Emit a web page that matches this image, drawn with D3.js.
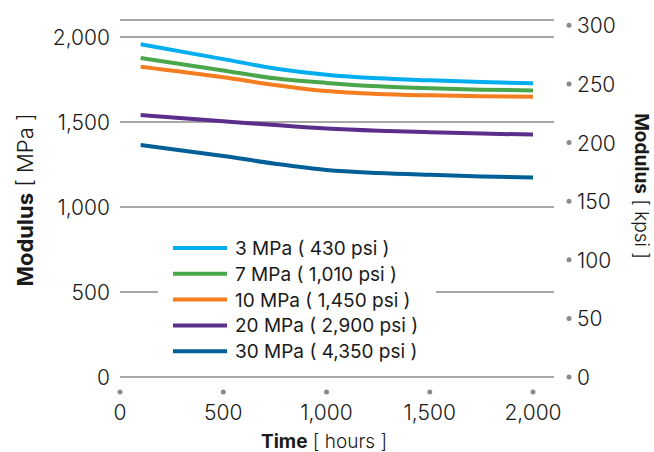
<!DOCTYPE html>
<html>
<head>
<meta charset="utf-8">
<script src="https://cdn.jsdelivr.net/npm/d3@7"></script>
<style>
  body { margin: 0; background: #fff; }
  svg { display: block; }
  text { font-family: Inter, "Liberation Sans", Arial, sans-serif; fill: #1a1a1a; }
  .tick { font-weight: 300; }
</style>
</head>
<body>
<svg id="chart" width="654" height="452"></svg>
<script>
// data
const hours = [100, 500, 750, 1000, 1250, 1500, 1750, 2000];
const mpa3 = [1957, 1870, 1815, 1778, 1757, 1745, 1735, 1728];
const mpa7 = [1876, 1803, 1757, 1730, 1710, 1698, 1690, 1686];
const mpa10 = [1825, 1763, 1718, 1682, 1665, 1657, 1652, 1649];
const mpa20 = [1541, 1504, 1482, 1462, 1449, 1440, 1432, 1426];
const mpa30 = [1365, 1300, 1255, 1218, 1200, 1189, 1180, 1173];

const seriesNames = ["3 MPa ( 430 psi )", "7 MPa ( 1,010 psi )", "10 MPa ( 1,450 psi )", "20 MPa ( 2,900 psi )", "30 MPa ( 4,350 psi )"];
const seriesColors = ["#00aeef", "#4aa64a", "#f47d20", "#5b2e8c", "#005f96"];
const seriesValues = [mpa3, mpa7, mpa10, mpa20, mpa30];

const xTicks = [0, 500, 1000, 1500, 2000];
const leftTicks = [0, 500, 1000, 1500, 2000];
const gridValues = [0, 500, 1000, 1500, 2000, 2100];
const rightTicks = [0, 50, 100, 150, 200, 250, 300];
const MPA_PER_KPSI = 6.895;

const svg = d3.select("#chart");
const fmt = d3.format(",");

const x = d3.scaleLinear().domain([0, 2000]).range([120, 533]);
const y = d3.scaleLinear().domain([0, 2100]).range([377, 20]);
const yK = d3.scaleLinear().domain([0, 2100 / MPA_PER_KPSI]).range([377, 20]);

// GRIDLINES
svg.append("g").selectAll("line")
  .data(gridValues)
  .join("line")
  .attr("x1", 120).attr("x2", 554)
  .attr("y1", d => y(d)).attr("y2", d => y(d))
  .attr("stroke", "#8a8a8a")
  .attr("stroke-width", 1.5);

// LEFT AXIS labels
svg.append("g").selectAll("text")
  .data(leftTicks)
  .join("text")
  .attr("class", "tick")
  .attr("x", 110)
  .attr("y", d => y(d) + 8)
  .attr("text-anchor", "end")
  .attr("font-size", 21)
  .text(d => fmt(d));

// RIGHT AXIS dots + labels
const right = svg.append("g");
right.selectAll("circle")
  .data(rightTicks)
  .join("circle")
  .attr("cx", 569).attr("cy", d => yK(d)).attr("r", 2.5)
  .attr("fill", "#8a8a8a");
right.selectAll("text")
  .data(rightTicks)
  .join("text")
  .attr("class", "tick")
  .attr("x", 577)
  .attr("y", d => yK(d) + 8)
  .attr("font-size", 21)
  .text(d => d);

// X AXIS dots + labels
const bottom = svg.append("g");
bottom.selectAll("circle")
  .data(xTicks)
  .join("circle")
  .attr("cx", d => x(d)).attr("cy", 392).attr("r", 2.5)
  .attr("fill", "#8a8a8a");
bottom.selectAll("text")
  .data(xTicks)
  .join("text")
  .attr("class", "tick")
  .attr("x", d => x(d))
  .attr("y", 420)
  .attr("text-anchor", "middle")
  .attr("font-size", 21)
  .text(d => fmt(d));

// AXIS TITLES
const xTitle = svg.append("text")
  .attr("x", 324).attr("y", 448)
  .attr("text-anchor", "middle")
  .attr("font-size", 19);
xTitle.append("tspan").attr("font-weight", "bold").text("Time");
xTitle.append("tspan").attr("font-weight", 300).text(" [ hours ]");

const yTitle = svg.append("text")
  .attr("transform", "translate(33,200) rotate(-90)")
  .attr("text-anchor", "middle")
  .attr("font-size", 22);
yTitle.append("tspan").attr("font-weight", "bold").text("Modulus");
yTitle.append("tspan").attr("font-weight", 300).text(" [ MPa ]");

const y2Title = svg.append("text")
  .attr("transform", "translate(635,186) rotate(90)")
  .attr("text-anchor", "middle")
  .attr("font-size", 19);
y2Title.append("tspan").attr("font-weight", "bold").text("Modulus");
y2Title.append("tspan").attr("font-weight", 300).text(" [ kpsi ]");

// LINES
const line = d3.line()
  .x((d, i) => x(hours[i]))
  .y(d => y(d))
  .curve(d3.curveMonotoneX);

svg.append("g").selectAll("path")
  .data(seriesValues)
  .join("path")
  .attr("d", d => line(d))
  .attr("fill", "none")
  .attr("stroke", (d, i) => seriesColors[i])
  .attr("stroke-width", 4);

// LEGEND
const legend = svg.append("g");
legend.append("rect")
  .attr("x", 158).attr("y", 236)
  .attr("width", 278).attr("height", 126)
  .attr("fill", "#fff");
const rows = legend.selectAll("g.row")
  .data(seriesNames)
  .join("g")
  .attr("class", "row")
  .attr("transform", (d, i) => `translate(0,${248 + i * 25.8})`);
rows.append("line")
  .attr("x1", 173).attr("x2", 227)
  .attr("stroke", (d, i) => seriesColors[i])
  .attr("stroke-width", 4);
rows.append("text")
  .attr("x", 235).attr("y", 7)
  .attr("font-size", 19)
  .text(d => d);
</script>
</body>
</html>
